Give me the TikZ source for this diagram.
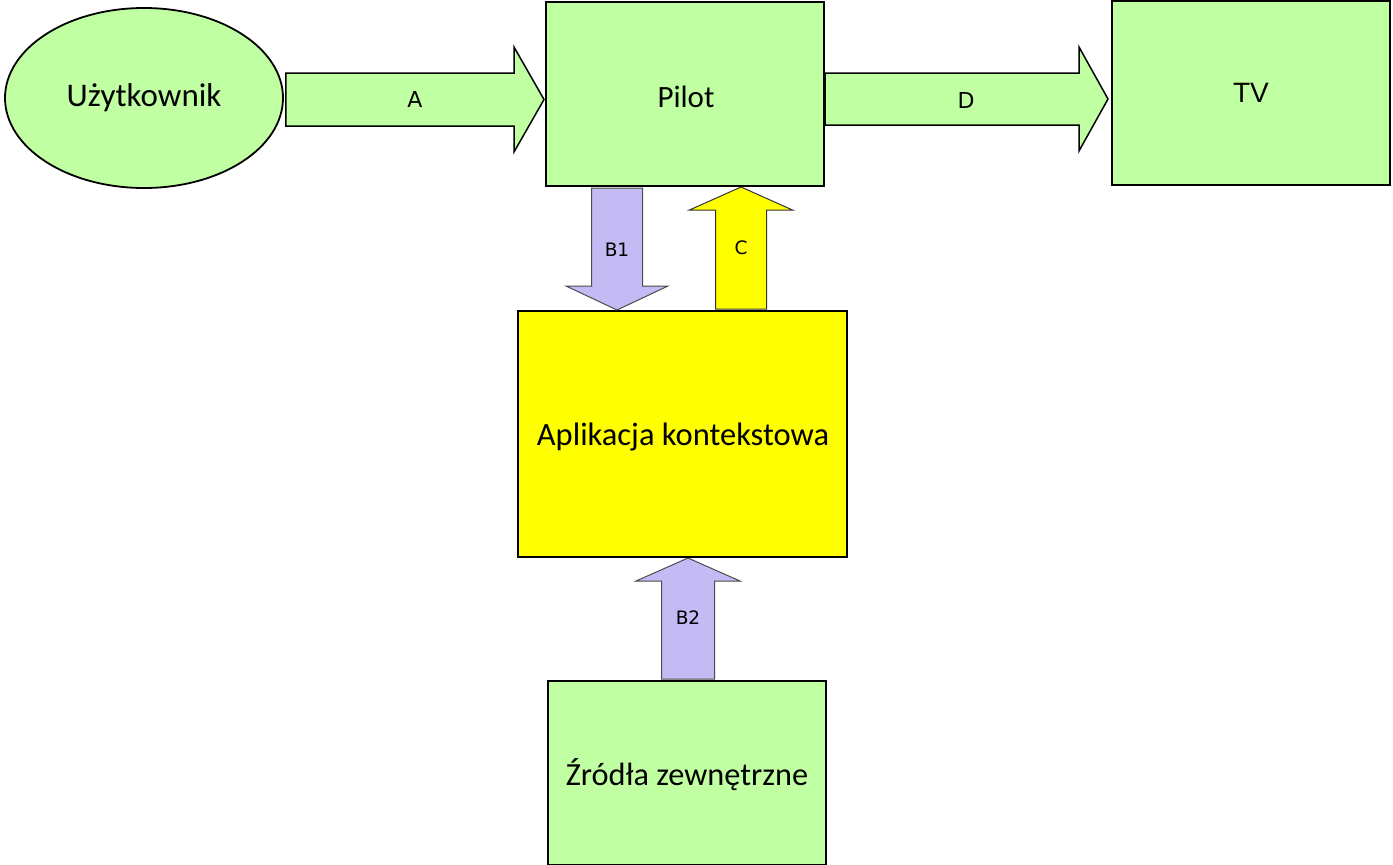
\documentclass[tikz,border=0pt]{standalone}
\usepackage{fontspec}
\setmainfont{Carlito}
\newfontfamily\arialfont{Liberation Sans}
\newfontfamily\dejavufont{DejaVu Sans}
\usetikzlibrary{calc}
\usetikzlibrary{positioning}
\usetikzlibrary{shapes.geometric}

\definecolor{boxgreen}{RGB}{192,255,162}
\definecolor{boxyellow}{RGB}{255,255,0}
\definecolor{arrowlilac}{RGB}{196,186,244}

\tikzset{
  block/.style={draw=black,line width=2pt,fill=boxgreen,inner sep=0pt,font=\fontsize{31}{36}\selectfont},
  fatarrow/.style={draw=black,line width=1.5pt,line join=miter,fill=boxgreen},
  lilacarrow/.style={draw=black!70,line width=1pt,line join=miter,fill=arrowlilac},
  yellowarrow/.style={draw=black!80,line width=1pt,line join=miter,fill=boxyellow},
  arrowlabel/.style={font=\dejavufont\fontsize{22}{26}\selectfont},
  smalllabel/.style={font=\dejavufont\fontsize{18.5}{22}\selectfont}
}

% block arrow from #2 to #3: shaft half width #4, head half width #5, head length #6 (in pt)
\newcommand\blockarrow[6]{%
  \filldraw[#1] ($(#2)!#4pt!90:(#3)$) -- ($($(#3)!#6pt!(#2)$)!#4pt!90:(#3)$)
    -- ($($(#3)!#6pt!(#2)$)!#5pt!90:(#3)$) -- (#3)
    -- ($($(#3)!#6pt!(#2)$)!#5pt!-90:(#3)$) -- ($($(#3)!#6pt!(#2)$)!#4pt!-90:(#3)$)
    -- ($(#2)!#4pt!-90:(#3)$) -- cycle;}

\begin{document}
\begin{tikzpicture}[x=1pt,y=-1pt]
  % Boundary
  \path[use as bounding box] (0,0) rectangle (1393,865);
  % Blocks
  \node[block,ellipse,line width=1.8pt,minimum width=278pt,minimum height=180pt,font=\fontsize{33}{38}\selectfont] (user) at (144,98) {Użytkownik};
  \node[block,minimum width=278pt,minimum height=184pt] (pilot) at (685,94) {};
  \node[font=\fontsize{31}{36}\selectfont] (pilottext) at (686,97) {Pilot};
  \node[block,minimum width=278pt,minimum height=184pt,font=\arialfont\fontsize{28}{32}\selectfont] (tv) at (1251,93) {TV};
  \node[block,fill=boxyellow,minimum width=329pt,minimum height=246pt] (app) at (682.5,434) {};
  \node[font=\fontsize{32.5}{38}\selectfont] (apptext) at (683,437) {Aplikacja kontekstowa};
  \node[block,minimum width=278pt,minimum height=184pt] (ext) at (687,773) {};
  \node[font=\fontsize{32.3}{38}\selectfont] (exttext) at (687,775) {Źródła zewnętrzne};
  % Arrow ends
  \coordinate (a0) at ($(user.east)+(2,1.5)$);
  \coordinate (a1) at ($(user.east -| pilot.west)+(-1,1.5)$);
  \coordinate (d0) at ($(pilot.east)+(0,5)$);
  \coordinate (d1) at ($(pilot.east -| tv.west)+(-3,5)$);
  \coordinate (b0) at ($(pilot.south)+(-68,1)$);
  \coordinate (b1) at (b0 |- app.north);
  \coordinate (c0) at ($(app.north)+(58.5,-1)$);
  \coordinate (c1) at (c0 |- pilot.south);
  \coordinate (e0) at ($(ext.north)+(1,-1)$);
  \coordinate (e1) at (e0 |- app.south);
  % Arrows
  \blockarrow{fatarrow}{a0}{a1}{26.5}{52.5}{30}
  \blockarrow{fatarrow}{d0}{d1}{26}{52}{29}
  \blockarrow{lilacarrow}{b0}{b1}{25.5}{51}{24}
  \blockarrow{yellowarrow}{c0}{c1}{25.5}{51.5}{23}
  \blockarrow{lilacarrow}{e0}{e1}{26.5}{52}{23}
  % Labels
  \node[arrowlabel] (la) at ($(a0)!0.5!(a1)$) {A};
  \node[arrowlabel] (ld) at (966,100) {D};
  \node[smalllabel] (lb1) at (617,250) {B1};
  \node[smalllabel] (lc) at (741,248) {C};
  \node[smalllabel] (lb2) at (688,618) {B2};
\end{tikzpicture}
\end{document}
